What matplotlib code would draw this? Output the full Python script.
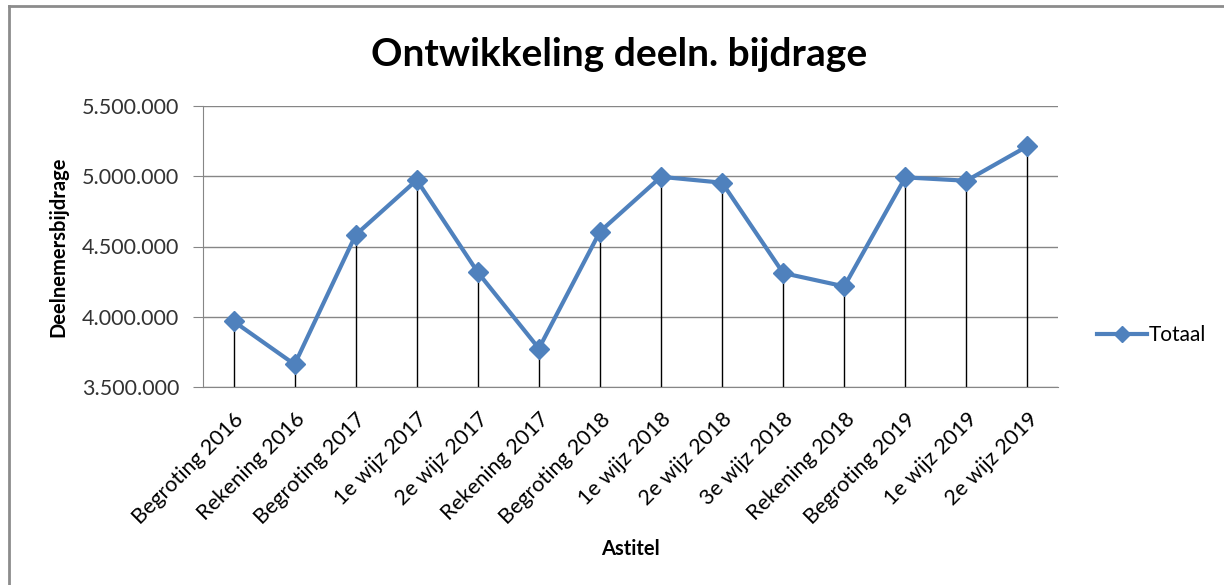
import matplotlib
matplotlib.use("Agg")
from matplotlib import pyplot as plt
from matplotlib.lines import Line2D
from matplotlib.ticker import FuncFormatter

categories = ["Begroting 2016", "Rekening 2016", "Begroting 2017", "1e wijz 2017",
              "2e wijz 2017", "Rekening 2017", "Begroting 2018", "1e wijz 2018",
              "2e wijz 2018", "3e wijz 2018", "Rekening 2018", "Begroting 2019",
              "1e wijz 2019", "2e wijz 2019"]
totaal = [3968000, 3661000, 4583000, 4973000, 4316000, 3774000, 4606000,
          4996000, 4954000, 4311000, 4216000, 4992000, 4968000, 5214000]
y_ticks = [3500000, 4000000, 4500000, 5000000, 5500000]

BLUE = "#4f81bd"
GRID = "#868686"
plt.rcParams["font.family"] = ["Lato", "DejaVu Sans"]

fig = plt.figure(figsize=(12.24, 5.85), dpi=100)
ax = fig.add_axes([203 / 1224, 1 - 387 / 585, (1058 - 203) / 1224, (387 - 106) / 585])

x = list(range(len(categories)))
ax.vlines(x, y_ticks[0], totaal, colors="black", linewidth=1.0, zorder=2)
ax.plot(x, totaal, color=BLUE, linewidth=3, marker="D", markersize=10,
        markeredgecolor=BLUE, zorder=3)

ax.set_xlim(-0.5, len(categories) - 0.5)
ax.set_ylim(y_ticks[0], y_ticks[-1])
ax.set_yticks(y_ticks)
ax.yaxis.set_major_formatter(FuncFormatter(lambda v, p: f"{int(v):,}".replace(",", ".")))
ax.grid(axis="y", color=GRID, linewidth=1)
ax.set_axisbelow(True)

ax.set_xticks(x)
ax.set_xticklabels(categories, rotation=45, ha="right", rotation_mode="anchor", fontsize=15.5)
ax.tick_params(axis="x", length=0, pad=16)
ax.tick_params(axis="y", length=7, color=GRID, labelsize=15.5, pad=10, labelcolor="#333333")
for s in ["top", "right"]:
    ax.spines[s].set_visible(False)
ax.spines["left"].set_color(GRID)
ax.spines["bottom"].set_color(GRID)

fig.text(619 / 1224, 1 - 55 / 585, "Ontwikkeling deeln. bijdrage", fontsize=28,
         fontweight="bold", ha="center", va="center")
ax.set_ylabel("Deelnemersbijdrage", fontsize=14.5, fontweight="bold", labelpad=10)
ax.set_xlabel("Astitel", fontsize=14.5, fontweight="bold", labelpad=8)

handle = Line2D([], [], color=BLUE, linewidth=3, marker="D", markersize=8)
fig.legend([handle], ["Totaal"], loc="center left", bbox_to_anchor=(1078 / 1224, 1 - 335 / 585),
           frameon=False, fontsize=15, handlelength=2.4, handletextpad=0.1)

# outer chart frame
fig.add_artist(Line2D([9 / 1224, 9 / 1224], [0, 1 - 6 / 585], transform=fig.transFigure,
                      color="#8c8c8c", linewidth=2))
fig.add_artist(Line2D([9 / 1224, 1], [1 - 6 / 585, 1 - 6 / 585], transform=fig.transFigure,
                      color="#8c8c8c", linewidth=2))

fig.savefig("out.png", dpi=100)
